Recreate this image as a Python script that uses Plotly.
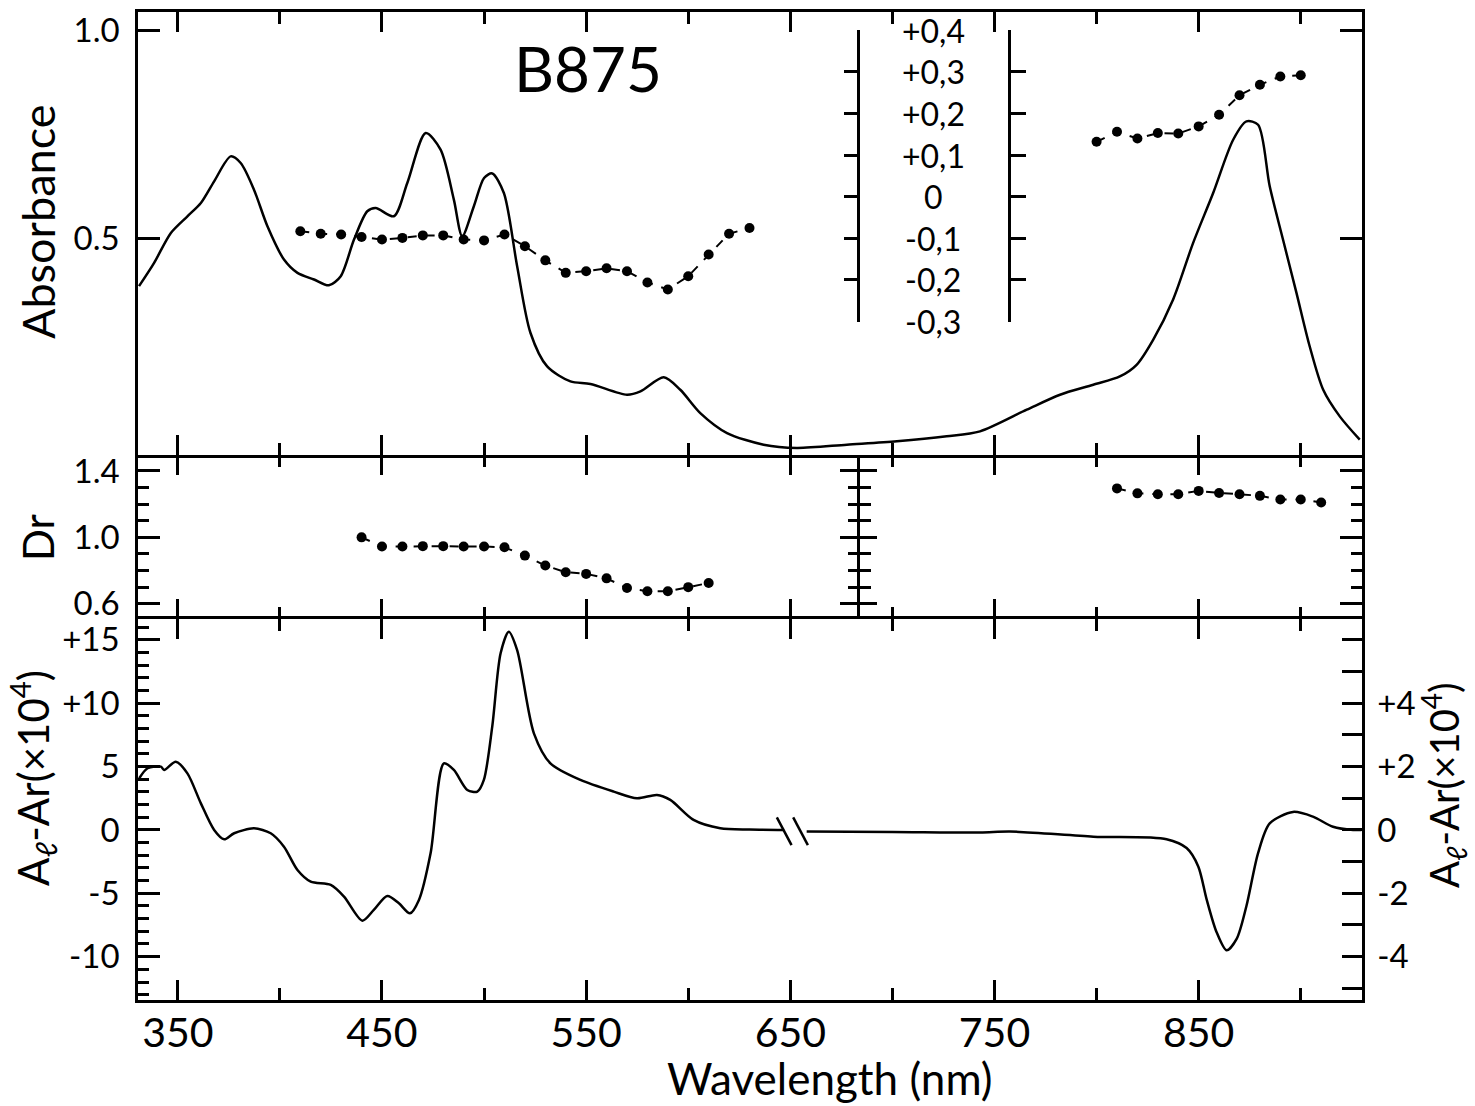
import plotly.graph_objects as go

# ---------------- data ----------------
wl_abs = [331, 338.4, 346.6, 354.7, 361.3, 367.8, 375.9, 380.8, 387.3, 393.9, 402, 408.6, 416.7, 424,
          429.8, 436.3, 442.8, 446.9, 455.8, 462.4, 471.4, 478.7, 485.2, 489.3, 495, 500, 504, 509.7,
          516.2, 522.7, 530.9, 542.3, 552.1, 570, 576.6, 588, 596.1, 605.9, 619, 636.9, 653.2, 677.7,
          702.2, 726.6, 742.9, 765.8, 782.1, 798.4, 811.4, 819.6, 827.7, 837.5, 847.3, 857.1, 866.9,
          873.4, 879.1, 884.8, 891.3, 897.9, 904.4, 911, 919.1, 928.9]
absorbance = [0.385, 0.441, 0.513, 0.553, 0.585, 0.637, 0.697, 0.681, 0.617, 0.529, 0.449, 0.417, 0.401, 0.387,
              0.409, 0.497, 0.565, 0.573, 0.553, 0.633, 0.753, 0.713, 0.593, 0.505, 0.577, 0.645, 0.656, 0.609,
              0.433, 0.273, 0.192, 0.156, 0.150, 0.124, 0.132, 0.166, 0.136, 0.080, 0.032, 0.004, -0.004, 0.004,
              0.012, 0.024, 0.036, 0.088, 0.124, 0.148, 0.168, 0.196, 0.256, 0.353, 0.489, 0.609, 0.737,
              0.781, 0.773, 0.625, 0.497, 0.369, 0.240, 0.136, 0.072, 0.016]

p_left_wl = [410, 420, 430, 440, 450, 460, 470, 480, 490, 500, 510, 520, 530, 540, 550, 560, 570, 580,
             590, 600, 610, 620, 630]
p_left = [-0.083, -0.089, -0.091, -0.097, -0.103, -0.099, -0.093, -0.093, -0.103, -0.105, -0.091, -0.119,
          -0.153, -0.183, -0.179, -0.172, -0.179, -0.206, -0.223, -0.191, -0.139, -0.089, -0.075]
p_right_wl = [800, 810, 820, 830, 840, 850, 860, 870, 880, 890, 900]
p_right = [0.132, 0.156, 0.140, 0.153, 0.152, 0.169, 0.197, 0.244, 0.269, 0.289, 0.292]
p_ticks = [-0.3, -0.2, -0.1, 0.0, 0.1, 0.2, 0.3, 0.4]
p_ticktext = ["-0,3", "-0,2", "-0,1", "0", "+0,1", "+0,2", "+0,3", "+0,4"]

dr_left_wl = [440, 450, 460, 470, 480, 490, 500, 510, 520, 530, 540, 550, 560, 570, 580, 590, 600, 610]
dr_left = [1.00, 0.945, 0.945, 0.947, 0.947, 0.945, 0.945, 0.94, 0.89, 0.83, 0.79, 0.78, 0.753, 0.695,
           0.675, 0.675, 0.70, 0.725]
dr_right_wl = [810, 820, 830, 840, 850, 860, 870, 880, 890, 900, 910]
dr_right = [1.295, 1.265, 1.26, 1.26, 1.28, 1.267, 1.26, 1.25, 1.228, 1.228, 1.21]
dr_ticks = [0.6, 1.0, 1.4]
dr_ticktext = ["0.6", "1.0", "1.4"]

cd_left_wl = [331.1, 335.2, 341.7, 343.3, 349, 354.7, 361.3, 367.8, 372.7, 377.6, 387.3, 395.5, 402, 408.6,
              415.1, 424.9, 431.4, 440.4, 446, 452.6, 458.3, 463.7, 468.1, 473.8, 480.3, 485.2, 491.8, 496.7,
              499.9, 504, 508.1, 512.1, 516.2, 524.4, 532.5, 547.2, 563.5, 574.9, 584.7, 591.2, 602.6, 615.7,
              630, 647]
cd_left = [4.08, 4.87, 5.0, 4.74, 5.39, 4.47, 2.1, 0.0, -0.74, -0.26, 0.13, -0.26, -1.32, -3.16,
           -4.08, -4.34, -5.26, -7.16, -6.31, -5.21, -5.79, -6.58, -5.52, -1.84, 5.26, 4.74, 3.16, 3.03,
           3.95, 8.16, 13.95, 15.65, 14.2, 7.63, 5.26, 3.95, 3.03, 2.5, 2.76, 2.37, 0.79, 0.13,
           0.03, 0.0]
cd_right_wl = [658, 700, 743, 757.6, 798.4, 834.3, 844.1, 849.8, 853.9, 858.8, 863.7, 868.6, 873.4, 879.1,
               884.8, 896.2, 906, 915.8, 925.6, 929.7]
cd_right = [-0.05, -0.06, -0.08, -0.05, -0.21, -0.29, -0.57, -1.15, -2.19, -3.23, -3.8, -3.44, -2.4, -0.73,
            0.21, 0.57, 0.42, 0.10, 0.0, 0.0]
cd_left_ticks = [-10, -5, 0, 5, 10, 15]
cd_left_text = ["-10", "-5", "0", "5", "+10", "+15"]
cd_right_ticks = [-4, -2, 0, 2, 4]
cd_right_text = ["-4", "-2", "0", "+2", "+4"]

BREAK_NM = 651
INSET_AXIS_NM = 683
INSET_AXIS2_NM = 757
P_OFFSET = 0.6  # p = absorbance - 0.6 on the inset scale

# ---------------- geometry ----------------
XR = [330.5, 930]
A_R = [-0.0197, 1.044]
DR_R = [0.508, 1.499]
CD_R = [-13.42, 16.65]
CD_SCALE = 2.5
CD_R2 = [CD_R[0] / CD_SCALE, CD_R[1] / CD_SCALE]
D_BOT = [0.0, 0.3856]
D_MID = [0.3856, 0.5521]
D_TOP = [0.5521, 1.0]
ML, MR, MT, MB = 138, 113, 12, 106
W, H = 1475, 1106


def xfrac(nm):
    return (nm - XR[0]) / (XR[1] - XR[0])


def px_to_xpaper(px):
    return (px - ML) / (W - ML - MR)


def px_to_ypaper(py):
    return (H - MB - py) / (H - MB - MT)


def a_frac(a):
    return D_TOP[0] + (a - A_R[0]) / (A_R[1] - A_R[0]) * (D_TOP[1] - D_TOP[0])


P_DOM = [a_frac(p_ticks[0] + P_OFFSET), a_frac(p_ticks[-1] + P_OFFSET)]

FONT = "Lato"
LW = 2.5
BLACK = "black"
MS = 10

fig = go.Figure()

fig.add_trace(go.Scatter(x=wl_abs, y=absorbance, xaxis="x3", yaxis="y3", mode="lines",
                         line=dict(color=BLACK, width=2.5, shape="spline", smoothing=0.8)))
for xs, ys in [(p_left_wl, p_left), (p_right_wl, p_right)]:
    fig.add_trace(go.Scatter(x=xs, y=ys, xaxis="x3", yaxis="y4", mode="lines+markers",
                             line=dict(color=BLACK, width=2, dash="dash"),
                             marker=dict(color=BLACK, size=MS), cliponaxis=False))
for xs, ys in [(dr_left_wl, dr_left), (dr_right_wl, dr_right)]:
    fig.add_trace(go.Scatter(x=xs, y=ys, xaxis="x2", yaxis="y2", mode="lines+markers",
                             line=dict(color=BLACK, width=2, dash="dash"),
                             marker=dict(color=BLACK, size=MS)))
fig.add_trace(go.Scatter(x=cd_left_wl, y=cd_left, xaxis="x", yaxis="y", mode="lines",
                         line=dict(color=BLACK, width=2.5, shape="spline", smoothing=0.8)))
fig.add_trace(go.Scatter(x=cd_right_wl, y=cd_right, xaxis="x", yaxis="y6", mode="lines",
                         line=dict(color=BLACK, width=2.5, shape="spline", smoothing=0.8)))
# empty traces so that the inset axes (bracket scales) get drawn
for xa, ya in [("x3", "y5"), ("x2", "y7"), ("x2", "y8")]:
    fig.add_trace(go.Scatter(x=[None], y=[None], xaxis=xa, yaxis=ya, mode="lines", hoverinfo="skip"))

tickfont = dict(family=FONT, size=33, color=BLACK)


def xax(**kw):
    d = dict(range=XR, showline=True, linecolor=BLACK, linewidth=LW, mirror="ticks",
             ticks="inside", ticklen=20, tickwidth=LW, tickcolor=BLACK, tick0=350, dtick=100,
             minor=dict(dtick=50, tick0=350, ticklen=12, tickwidth=LW, ticks="inside", tickcolor=BLACK),
             showgrid=False, zeroline=False, domain=[0, 1], automargin=False)
    d.update(kw)
    return d


def yax(**kw):
    d = dict(showline=True, linecolor=BLACK, linewidth=LW, ticks="inside", ticklen=22,
             tickwidth=LW, tickcolor=BLACK, showgrid=False, zeroline=False, tickfont=tickfont,
             ticklabelstandoff=9, automargin=False)
    d.update(kw)
    return d


def bare(**kw):
    d = dict(showline=True, linecolor=BLACK, linewidth=LW, tickwidth=LW, tickcolor=BLACK,
             showticklabels=False, showgrid=False, zeroline=False, automargin=False)
    d.update(kw)
    return d


CD_TITLE = "A<sub>ℓ</sub>-Ar(×10<sup>4</sup>)"

layout = dict(
    width=W, height=H, paper_bgcolor="white", plot_bgcolor="rgba(0,0,0,0)",
    margin=dict(l=ML, r=MR, t=MT, b=MB, autoexpand=False),
    font=dict(family=FONT, color=BLACK),
    showlegend=False,
    xaxis=xax(anchor="y", showticklabels=True, tickfont=dict(family=FONT, size=41, color=BLACK),
              ticklabelstandoff=-5),
    xaxis2=xax(anchor="y2", showticklabels=False, showline=False),
    xaxis3=xax(anchor="y3", showticklabels=False),
    yaxis=yax(domain=D_BOT, range=CD_R, anchor="x", tickvals=cd_left_ticks, ticktext=cd_left_text,
              minor=dict(dtick=1, tick0=0, ticklen=11, tickwidth=LW, ticks="inside", tickcolor=BLACK)),
    yaxis6=yax(overlaying="y", side="right", anchor="x", range=CD_R2, tickvals=cd_right_ticks,
               ticktext=cd_right_text, ticklen=20, ticklabelstandoff=6,
               minor=dict(dtick=1, tick0=0, ticklen=20, tickwidth=LW, ticks="inside", tickcolor=BLACK)),
    yaxis2=yax(domain=D_MID, range=DR_R, anchor="x2", mirror="ticks",
               tickvals=dr_ticks, ticktext=dr_ticktext,
               minor=dict(dtick=0.1, tick0=0.6, ticklen=11, tickwidth=LW, ticks="inside", tickcolor=BLACK)),
    yaxis3=yax(domain=D_TOP, range=A_R, anchor="x3", mirror="ticks",
               tickvals=[0.5, 1.0], ticktext=["0.5", "1.0"]),
    yaxis4=bare(domain=P_DOM, range=[p_ticks[0], p_ticks[-1]], anchor="free",
                position=xfrac(INSET_AXIS_NM), side="right", ticks="inside", ticklen=13, tickvals=p_ticks),
    yaxis5=bare(overlaying="y4", range=[p_ticks[0], p_ticks[-1]], anchor="free",
                position=xfrac(INSET_AXIS2_NM), side="left", ticks="inside", ticklen=15, tickvals=p_ticks),
    yaxis7=bare(overlaying="y2", range=DR_R, anchor="free", position=xfrac(INSET_AXIS_NM), side="left",
                ticks="outside", ticklen=17, tickvals=dr_ticks,
                minor=dict(dtick=0.1, tick0=0.6, ticklen=9, tickwidth=LW, ticks="outside", tickcolor=BLACK)),
    yaxis8=bare(overlaying="y2", range=DR_R, anchor="free", position=xfrac(INSET_AXIS_NM), side="right",
                ticks="outside", ticklen=18, tickvals=dr_ticks,
                minor=dict(dtick=0.1, tick0=0.6, ticklen=12, tickwidth=LW, ticks="outside", tickcolor=BLACK)),
)
fig.update_layout(**layout)


def label(text, px, py, size, angle=0):
    fig.add_annotation(x=px_to_xpaper(px), xref="paper", y=px_to_ypaper(py), yref="paper",
                       text=text, showarrow=False, xanchor="center", yanchor="middle", textangle=angle,
                       font=dict(family=FONT, size=size, color=BLACK))


# axis titles placed where the reference has them
label("Wavelength (nm)", 830, 1078, 44)
label("Absorbance", 38, 222, 45, -90)
label("Dr", 38, 538, 42, -90)
label(CD_TITLE, 33, 778, 42, -90)
label(CD_TITLE, 1443, 785, 40, -90)
label("B875", 588, 68, 62)

# inset p scale labels
label_x = (xfrac(INSET_AXIS_NM) + xfrac(INSET_AXIS2_NM)) / 2
for v, t in zip(p_ticks, p_ticktext):
    fig.add_annotation(x=label_x, xref="paper", y=v, yref="y4", text=t, showarrow=False,
                       xanchor="center", yanchor="middle", font=dict(family=FONT, size=32, color=BLACK))
fig.add_annotation(x=label_x, xref="paper", y=p_ticks[0] - 0.095, yref="y4", text="p", showarrow=False,
                   xanchor="center", yanchor="middle", font=dict(family=FONT, size=34, color=BLACK))

# axis break marks on the CD trace
for dx in (-4.0, 4.0):
    fig.add_shape(type="line", xref="x", yref="y", x0=BREAK_NM + dx - 3.6, y0=1.0,
                  x1=BREAK_NM + dx + 3.6, y1=-1.2, line=dict(color=BLACK, width=2.5))

fig.write_html("out.html", config={"displayModeBar": False},
               post_script="document.body.style.margin='0px';document.body.style.overflow='hidden';")
